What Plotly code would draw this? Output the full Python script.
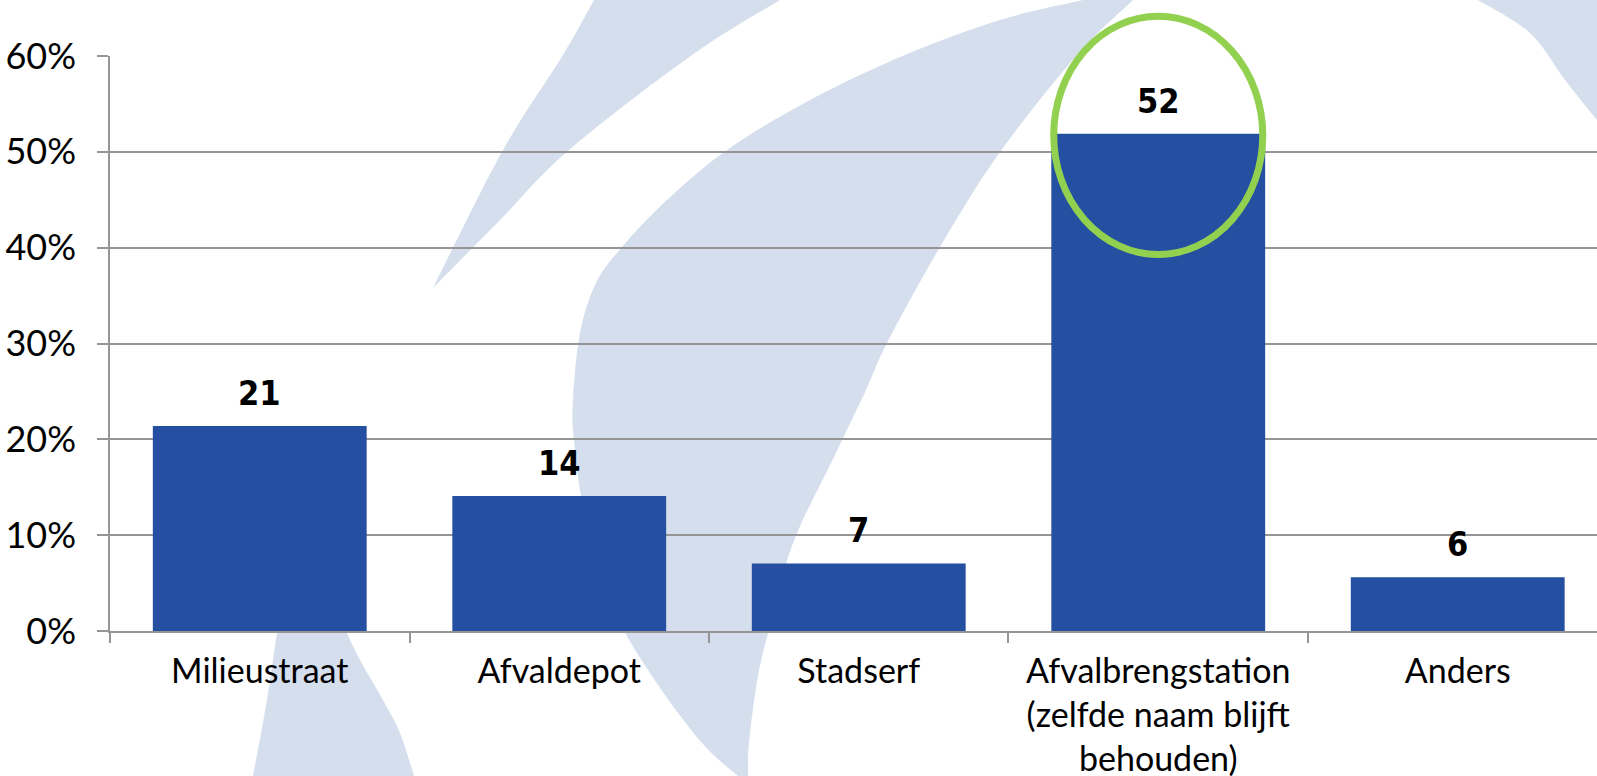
import plotly.graph_objects as go

# ---- data ----
categories = ["Milieustraat", "Afvaldepot", "Stadserf",
              "Afvalbrengstation<br>(zelfde naam blijft<br>behouden)", "Anders"]
values = [21.4, 14.1, 7.05, 51.9, 5.6]
labels = ["21", "14", "7", "52", "6"]
y_ticks = [0, 10, 20, 30, 40, 50, 60]
y_ticktext = ["0%", "10%", "20%", "30%", "40%", "50%", "60%"]
highlight_index = 3

# ---- layout geometry (pixels) ----
W, H = 1597, 776
ML, MR, MT, MB = 110, 0, 56, 145
PW, PH = W - ML - MR, H - MT - MB
PLOT_BOTTOM = MT + PH

BAR_COLOR = "#254FA1"
SWOOSH = "rgb(212,222,237)"
GRID = "#959595"
GREEN = "#92D050"


def to_paper(pt):
    x, y = pt
    return ((x - ML) / PW, (PLOT_BOTTOM - y) / PH)


def fmt(p):
    return f"{p[0]:.5f},{p[1]:.5f}"


def curve(points):
    """Catmull-Rom through points (pixel coords) -> SVG cubic segments (paper coords)."""
    pts = [to_paper(p) for p in points]
    out = []
    n = len(pts)
    for i in range(n - 1):
        p0 = pts[i - 1] if i > 0 else pts[i]
        p1 = pts[i]
        p2 = pts[i + 1]
        p3 = pts[i + 2] if i + 2 < n else pts[i + 1]
        c1 = (p1[0] + (p2[0] - p0[0]) / 6, p1[1] + (p2[1] - p0[1]) / 6)
        c2 = (p2[0] - (p3[0] - p1[0]) / 6, p2[1] - (p3[1] - p1[1]) / 6)
        out.append(f"C {fmt(c1)} {fmt(c2)} {fmt(p2)}")
    return " ".join(out)


def shape_path(edges):
    """edges: list of point lists; each edge smoothed, joined by straight lines."""
    parts = []
    for k, e in enumerate(edges):
        start = fmt(to_paper(e[0]))
        parts.append(("M " if k == 0 else "L ") + start)
        if len(e) > 1:
            parts.append(curve(e))
    parts.append("Z")
    return " ".join(parts)


# background watermark swooshes (pixel outlines)
swooshes = [
    # thin spike
    [[(433, 288), (503, 150), (563, 55), (594, 0)],
     [(780, 0), (692, 55), (569, 150), (500, 220), (433, 288)]],
    # big crescent
    [[(1083, 0), (1000, 20), (905, 55), (810, 100), (727, 150), (667, 200),
      (622, 247), (596, 283), (580, 333), (573, 400), (574, 440), (584, 509),
      (614, 609), (652, 676), (702, 743), (738, 776)],
     [(748, 776), (749, 743), (758, 676), (770, 626), (793, 543), (833, 459),
      (866, 390), (887, 343), (940, 247), (1000, 152), (1077, 55), (1133, 0)]],
    # right arc
    [[(1478, 0), (1530, 33), (1565, 80), (1597, 120)],
     [(1597, 0)]],
    # lower left wedge
    [[(292, 540), (277, 633), (267, 700), (253, 776)],
     [(414, 776), (400, 733), (383, 700), (347, 633), (318, 540)]],
]

shapes = []
for s in swooshes:
    shapes.append(dict(type="path", xref="paper", yref="paper", path=shape_path(s),
                       fillcolor=SWOOSH, line=dict(width=0), layer="below"))

# highlight ellipse around the largest bar
ell_half = 0.349
shapes.append(dict(type="circle", xref="x", yref="paper",
                   x0=highlight_index - ell_half, x1=highlight_index + ell_half,
                   y0=(PLOT_BOTTOM - 254.5) / PH, y1=(PLOT_BOTTOM - 16.2) / PH,
                   line=dict(color=GREEN, width=7), fillcolor="rgba(0,0,0,0)",
                   layer="above"))

fig = go.Figure()
fig.add_trace(go.Bar(x=list(range(len(categories))), y=values, marker_color=BAR_COLOR,
                     marker_line_width=0, width=0.714, hoverinfo="skip"))

annotations = []
for i, (v, t) in enumerate(zip(values, labels)):
    annotations.append(dict(x=i, y=v, xref="x", yref="y", text=t, showarrow=False,
                            yanchor="bottom", yshift=11,
                            font=dict(family="DejaVu Sans Condensed, Roboto", size=34,
                                      color="black", weight="bold")))

fig.update_layout(
    width=W, height=H, autosize=False,
    margin=dict(l=ML, r=MR, t=MT, b=MB, pad=0, autoexpand=False),
    paper_bgcolor="white", plot_bgcolor="rgba(0,0,0,0)",
    showlegend=False,
    shapes=shapes, annotations=annotations,
    font=dict(family="Lato", size=36, color="black"),
)
fig.update_xaxes(
    tickmode="array", tickvals=list(range(len(categories))), ticktext=categories,
    range=[-0.5, 4.465], showgrid=False, zeroline=False, automargin=False,
    showline=True, linecolor=GRID, linewidth=1.5,
    ticks="", tickfont=dict(family="Lato", size=34, color="black"),
    ticklabelstandoff=9,
    minor=dict(tickvals=[-0.5, 0.5, 1.5, 2.5, 3.5, 4.5], ticks="outside", ticklen=10,
               tickcolor=GRID, tickwidth=1.5, showgrid=False),
)
fig.update_yaxes(
    range=[0, 60], tickvals=y_ticks, ticktext=y_ticktext, automargin=False,
    showgrid=True, gridcolor=GRID, gridwidth=1.5, zeroline=False,
    showline=True, linecolor=GRID, linewidth=1.5,
    ticks="outside", ticklen=11, tickcolor=GRID, tickwidth=1.5,
    tickfont=dict(family="Lato", size=36, color="black"),
    ticklabelstandoff=14,
)

fig.write_html("out.html", config={"displayModeBar": False},
               post_script="document.body.style.margin='0px';")
